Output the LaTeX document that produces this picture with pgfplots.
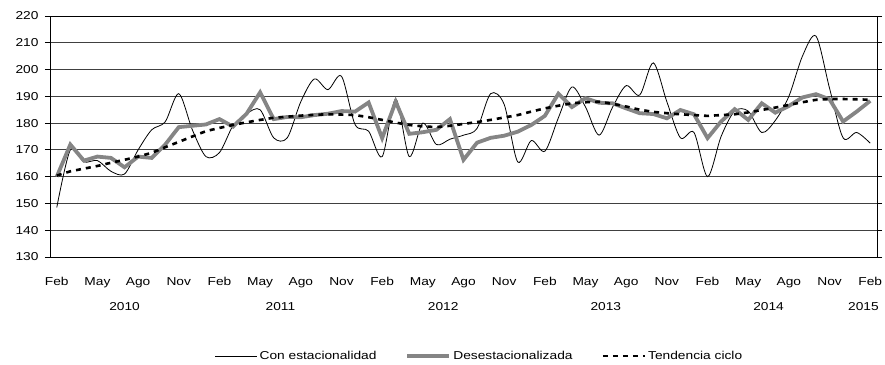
\documentclass[border=0pt]{standalone}
\usepackage{fontspec}
\setmainfont[FakeStretch=1.2]{Liberation Sans}
\usepackage{pgfplots}
\usepackage{pgfplotstable}
\pgfplotsset{compat=1.18}

% i = mes desde feb 2010
\pgfplotstableread{
i  con    des    ten
0  148.5  160.0  160.4
1  170.0  172.0  162.0
2  165.5  166.0  163.0
3  166.0  167.5  164.0
4  162.0  167.0  165.2
5  161.0  163.5  166.3
6  170.0  167.5  167.5
7  177.5  167.0  168.9
8  180.5  172.0  171.0
9  191.0  178.5  173.0
10 177.5  179.0  175.0
11 167.5  179.5  177.0
12 169.0  181.5  178.2
13 179.0  178.7  179.3
14 183.5  183.5  180.3
15 185.0  191.5  181.2
16 174.5  181.5  182.0
17 174.5  182.3  182.4
18 188.0  182.2  182.8
19 196.5  183.0  183.1
20 192.5  183.5  183.3
21 197.5  184.5  183.2
22 179.5  184.3  183.0
23 177.0  187.7  182.2
24 167.5  174.4  181.2
25 189.0  188.0  180.2
26 167.5  176.0  179.3
27 180.0  176.6  178.8
28 172.0  177.5  178.5
29 174.0  181.5  179.0
30 175.5  166.3  179.7
31 178.0  172.7  180.4
32 191.0  174.5  181.2
33 187.0  175.3  182.1
34 165.5  176.8  183.0
35 173.5  179.3  184.3
36 169.5  182.7  185.5
37 182.0  191.0  186.5
38 193.5  186.0  187.4
39 186.0  189.3  187.8
40 175.5  187.6  188.0
41 186.0  187.4  187.2
42 194.0  185.5  186.2
43 190.5  183.7  185.0
44 202.5  183.4  184.2
45 188.0  181.8  183.7
46 174.5  184.9  183.3
47 176.5  183.3  183.0
48 160.0  174.4  182.7
49 175.0  180.6  183.0
50 184.5  185.2  183.3
51 184.5  181.2  184.0
52 176.5  187.4  184.9
53 181.0  183.9  185.8
54 190.0  186.4  186.8
55 205.0  189.6  187.8
56 212.5  190.8  188.7
57 193.0  188.9  189.0
58 174.5  180.6  189.0
59 176.5  184.3  188.9
60 172.5  188.3  188.7
}\datos

\begin{document}
\begin{tikzpicture}
\useasboundingbox (-50bp,-108bp) rectangle (835bp,257bp);
\begin{axis}[
    at={(0,0)}, anchor=south west,
    scale only axis,
    width=827bp, height=241bp,
    xmin=-0.5, xmax=60.5,
    ymin=130, ymax=220,
    ytick={130,140,...,220},
    xtick={0,3,...,60},
    xticklabels={Feb,May,Ago,Nov,Feb,May,Ago,Nov,Feb,May,Ago,Nov,Feb,May,Ago,Nov,Feb,May,Ago,Nov,Feb},
    extra x ticks={5,16.5,28.5,40.5,52.5,59.5},
    extra x tick labels={2010,2011,2012,2013,2014,2015},
    extra x tick style={grid=none, xticklabel style={yshift=-25bp}},
    font=\fontsize{11.5}{13}\selectfont,
    /pgf/number format/assume math mode=true,
    yticklabel style={/pgf/number format/1000 sep={}},
    ymajorgrids,
    grid style={black!75, line width=0.9bp},
    axis line style={black, line width=1bp},
    tick align=outside,
    ytick style={black, line width=0.9bp},
    major tick length=5bp,
    xtick style={draw=none},
    xticklabel style={yshift=-12bp},
    yticklabel style={xshift=-3bp},
    legend columns=3,
    legend style={draw=none, at={(0.5,0)}, anchor=center, yshift=-99bp, xshift=16bp,
        font=\fontsize{11.5}{13}\selectfont,
        /tikz/every even column/.append style={column sep=27bp}},
    legend cell align=left,
    legend image code/.code={\draw[#1] (0bp,0bp) -- (42bp,0bp);},
]
\addplot[black, line width=0.8bp, smooth, tension=0.5] table[x=i, y=con] {\datos};
\addlegendentry{Con estacionalidad}
\addplot[black!48, line width=3.8bp, line join=miter] table[x=i, y=des] {\datos};
\addlegendentry{Desestacionalizada}
\addplot[black, line width=2.6bp, dash pattern=on 5bp off 5bp] table[x=i, y=ten] {\datos};
\addlegendentry{Tendencia ciclo}
\end{axis}
\end{tikzpicture}
\end{document}
